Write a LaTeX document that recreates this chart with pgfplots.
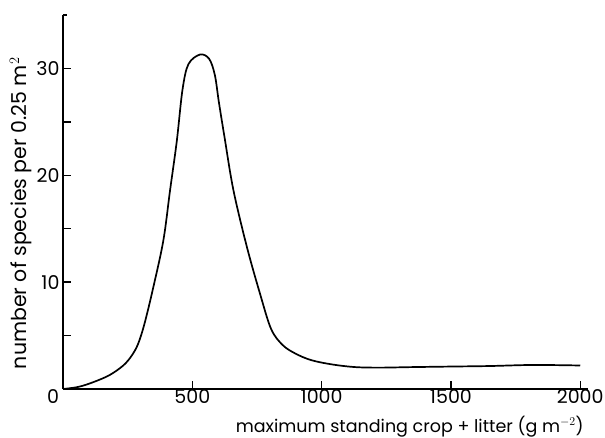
\documentclass[border=0pt]{standalone}
\usepackage{fontspec}
\setmainfont{Poppins}
\usepackage{pgfplots}
\pgfplotsset{compat=1.18}
\begin{document}
\begin{tikzpicture}
\begin{axis}[
  scale only axis,
  width=525bp, height=374bp,
  xmin=0, xmax=2030, ymin=0, ymax=35,
  axis x line*=bottom, axis y line*=left,
  axis line style={line width=1.5bp, -},
  every tick/.style={black, line width=1.3bp},
  tick align=inside,
  major tick length=8bp,
  xtick={500,1000,1500,2000},
  ytick={5,10,15,20,25,30},
  yticklabels={,10,,20,,30},
  extra x ticks={0},
  extra x tick labels={0},
  extra x tick style={major tick length=0bp, xticklabel style={xshift=-10bp}},
  extra y ticks={35},
  extra y tick labels={},
  extra y tick style={major tick length=4bp},
  /pgf/number format/assume math mode=true,
  /pgf/number format/1000 sep={},
  tick label style={font=\fontsize{19bp}{22bp}\selectfont},
  xticklabel style={yshift=1bp, inner sep=1bp},
  yticklabel style={xshift=0bp},
  xlabel={maximum standing crop + litter (g m$^{-2}$)},
  xlabel style={font=\fontsize{17.5bp}{21bp}\selectfont, inner sep=1bp, at={(axis description cs:0.994,-0.1)}, anchor=east},
  ylabel={number of species per 0.25 m$^{2}$},
  ylabel style={font=\fontsize{20.5bp}{24bp}\selectfont, at={(axis description cs:-0.08,0.47)}, anchor=center},
  clip=false,
]
\addplot[black, line width=1.7bp, smooth, tension=0.55] coordinates {
(0,0) (60,0.2) (117,0.64) (180,1.3) (233,2.2) (265,3.1) (290,4.2) (315,6.1)
(349,9.5) (388,13.9) (414,18.6) (440,23.2) (462,28.0) (485,30.4)
(530,31.3) (565,30.9) (587,29.4) (603,26.8) (625,23.5) (659,18.6)
(711,13.3) (762,8.9) (805,5.6) (850,4.1) (900,3.3) (960,2.7)
(1040,2.3) (1130,2.05) (1226,2.0) (1350,2.05) (1497,2.1) (1650,2.15) (1818,2.25) (2000,2.2)
};
\end{axis}
\pgfresetboundingbox
\path[use as bounding box] (-63bp,-49bp) rectangle (542bp,389bp);
\end{tikzpicture}
\end{document}
